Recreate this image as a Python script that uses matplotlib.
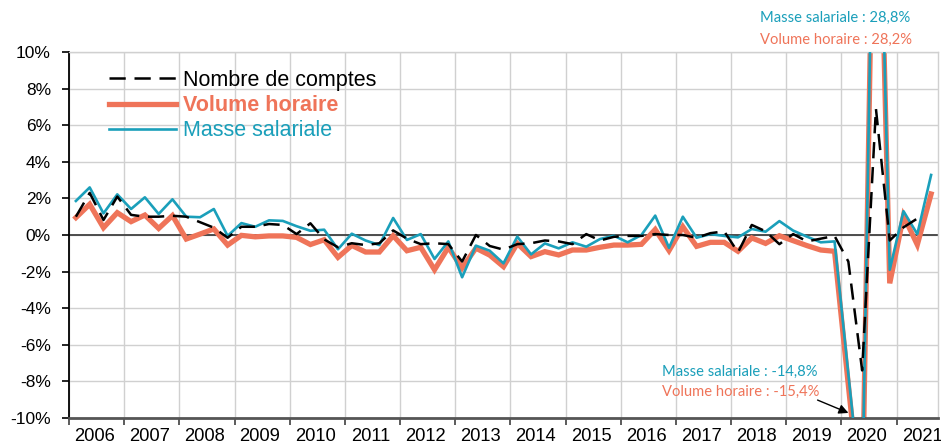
import matplotlib
matplotlib.use("Agg")
import matplotlib.pyplot as plt
import numpy as np

years = list(range(2006, 2022))

masse_salariale = [1.86, 2.6, 1.18, 2.22, 1.42, 2.06, 1.15, 1.95, 1.0, 0.97, 1.42, -0.05,
                   0.65, 0.45, 0.8, 0.77, 0.48, 0.23, 0.29, -0.78, 0.07, -0.3, -0.55, 0.93,
                   -0.27, 0.05, -1.31, -0.35, -2.31, -0.58, -0.86, -1.55, -0.09, -1.06, -0.46, -0.73,
                   -0.4, -0.64, -0.22, -0.04, -0.4, 0.0, 1.06, -0.7, 1.0, -0.15, 0.05, -0.05,
                   -0.13, 0.33, 0.18, 0.76, 0.24, -0.09, -0.4, -0.35, -7.6, -14.8, 28.8, -1.9,
                   1.3, 0.05, 3.28]

volume_horaire = [0.95, 1.68, 0.4, 1.22, 0.73, 1.09, 0.36, 1.06, -0.22, 0.05, 0.33, -0.55,
                  -0.02, -0.1, -0.05, -0.05, -0.13, -0.52, -0.26, -1.22, -0.57, -0.93, -0.93, -0.04,
                  -0.86, -0.67, -1.9, -0.67, -1.8, -0.72, -1.1, -1.73, -0.46, -1.18, -0.91, -1.09,
                  -0.82, -0.82, -0.67, -0.55, -0.55, -0.51, 0.3, -0.85, 0.45, -0.62, -0.4, -0.4,
                  -0.89, -0.16, -0.46, -0.04, -0.31, -0.58, -0.82, -0.89, -8.2, -15.4, 28.2, -2.64,
                  1.05, -0.53, 2.24]

nombre_comptes = [1.0, 2.3, 0.82, 2.1, 1.1, 1.0, 1.0, 1.05, 1.0, 0.7, 0.4, -0.15,
                  0.45, 0.45, 0.6, 0.55, 0.05, 0.64, -0.24, -0.67, -0.45, -0.55, -0.45, 0.25,
                  -0.2, -0.5, -0.45, -0.5, -1.45, 0.0, -0.6, -0.8, -0.5, -0.45, -0.3, -0.35,
                  -0.5, 0.05, -0.3, -0.1, -0.05, -0.05, 0.05, 0.0, 0.0, -0.15, 0.1, 0.2,
                  -0.95, 0.55, 0.2, -0.5, 0.05, -0.35, -0.2, -0.05, -1.45, -7.4, 6.9, -0.3,
                  0.42, 0.9]

ytick_values = list(range(-10, 11, 2))

BLUE = "#1a9fba"
ORANGE = "#ef7459"

plt.rcParams['font.family'] = ['Liberation Sans', 'DejaVu Sans']

fig = plt.figure(figsize=(9.41, 4.48), dpi=100)
ax = fig.add_axes([69/941, 30/448, 869/941, 366/448])

xq_ms = np.arange(len(masse_salariale)) + 0.5
xq_vh = np.arange(len(volume_horaire)) + 0.5
xq_nc = np.arange(len(nombre_comptes)) + 0.5

ax.axhline(0, color="#404040", lw=1.3, zorder=1.5)
l2, = ax.plot(xq_vh, volume_horaire, color=ORANGE, lw=3.8, solid_joinstyle='miter', zorder=2, label="Volume horaire")
l3, = ax.plot(xq_ms, masse_salariale, color=BLUE, lw=1.9, zorder=3, label="Masse salariale")
l1, = ax.plot(xq_nc, nombre_comptes, color="black", lw=1.8, dashes=(6.5, 3.5), zorder=4, label="Nombre de comptes")

ax.set_xlim(0, 63)
ax.set_ylim(-10, 10)

ax.set_yticks(ytick_values)
ax.set_yticklabels([f"{v}%" for v in ytick_values], fontsize=12.5)
ax.set_xticks([4 * k for k in range(len(years))])
ax.set_xticklabels([])
ax.set_xticks([4 * k + 1.85 for k in range(len(years))], minor=True)
ax.set_xticklabels([str(y) for y in years], minor=True, fontsize=13.2)
ax.tick_params(axis='x', which='minor', length=0, pad=7)
ax.tick_params(axis='x', which='major', length=5, width=1.2, color="#404040", direction='out')
ax.tick_params(axis='y', length=5, width=1.2, direction='out', pad=8)

ax.grid(True, which='major', color="#d0d0d0", lw=1.0, zorder=0)
ax.set_axisbelow(True)
for s in ['top', 'right']:
    ax.spines[s].set_color("#d0d0d0")
    ax.spines[s].set_linewidth(1.0)
ax.spines['bottom'].set_color("#555555")
ax.spines['bottom'].set_linewidth(2.0)
ax.spines['left'].set_color("black")
ax.spines['left'].set_linewidth(1.3)

leg = ax.legend(handles=[l1, l2, l3], loc='upper left', bbox_to_anchor=(0.036, 0.975),
                frameon=False, fontsize=15.5, handlelength=3.1, handletextpad=0.35,
                labelspacing=0.2, borderaxespad=0)
texts = leg.get_texts()
texts[0].set_color("black")
texts[1].set_color(ORANGE)
texts[1].set_fontweight('bold')
texts[2].set_color(BLUE)

ann_font = ['Lato', 'DejaVu Sans']
fig.text(760/941, 1 - 18/448, "Masse salariale : 28,8%", color=BLUE, fontsize=10.6,
         family=ann_font, ha='left', va='center')
fig.text(760/941, 1 - 40/448, "Volume horaire : 28,2%", color=ORANGE, fontsize=10.6,
         family=ann_font, ha='left', va='center')
fig.text(662/941, 1 - 372/448, "Masse salariale : -14,8%", color=BLUE, fontsize=10.6,
         family=ann_font, ha='left', va='center')
fig.text(662/941, 1 - 392/448, "Volume horaire : -15,4%", color=ORANGE, fontsize=10.6,
         family=ann_font, ha='left', va='center')
ax.annotate("", xy=(851, 448 - 414), xycoords='figure pixels',
            xytext=(815, 448 - 399), textcoords='figure pixels',
            arrowprops=dict(arrowstyle='-|>', color='black', lw=1.0, mutation_scale=14),
            annotation_clip=False)

fig.savefig("out.png", dpi=100)
